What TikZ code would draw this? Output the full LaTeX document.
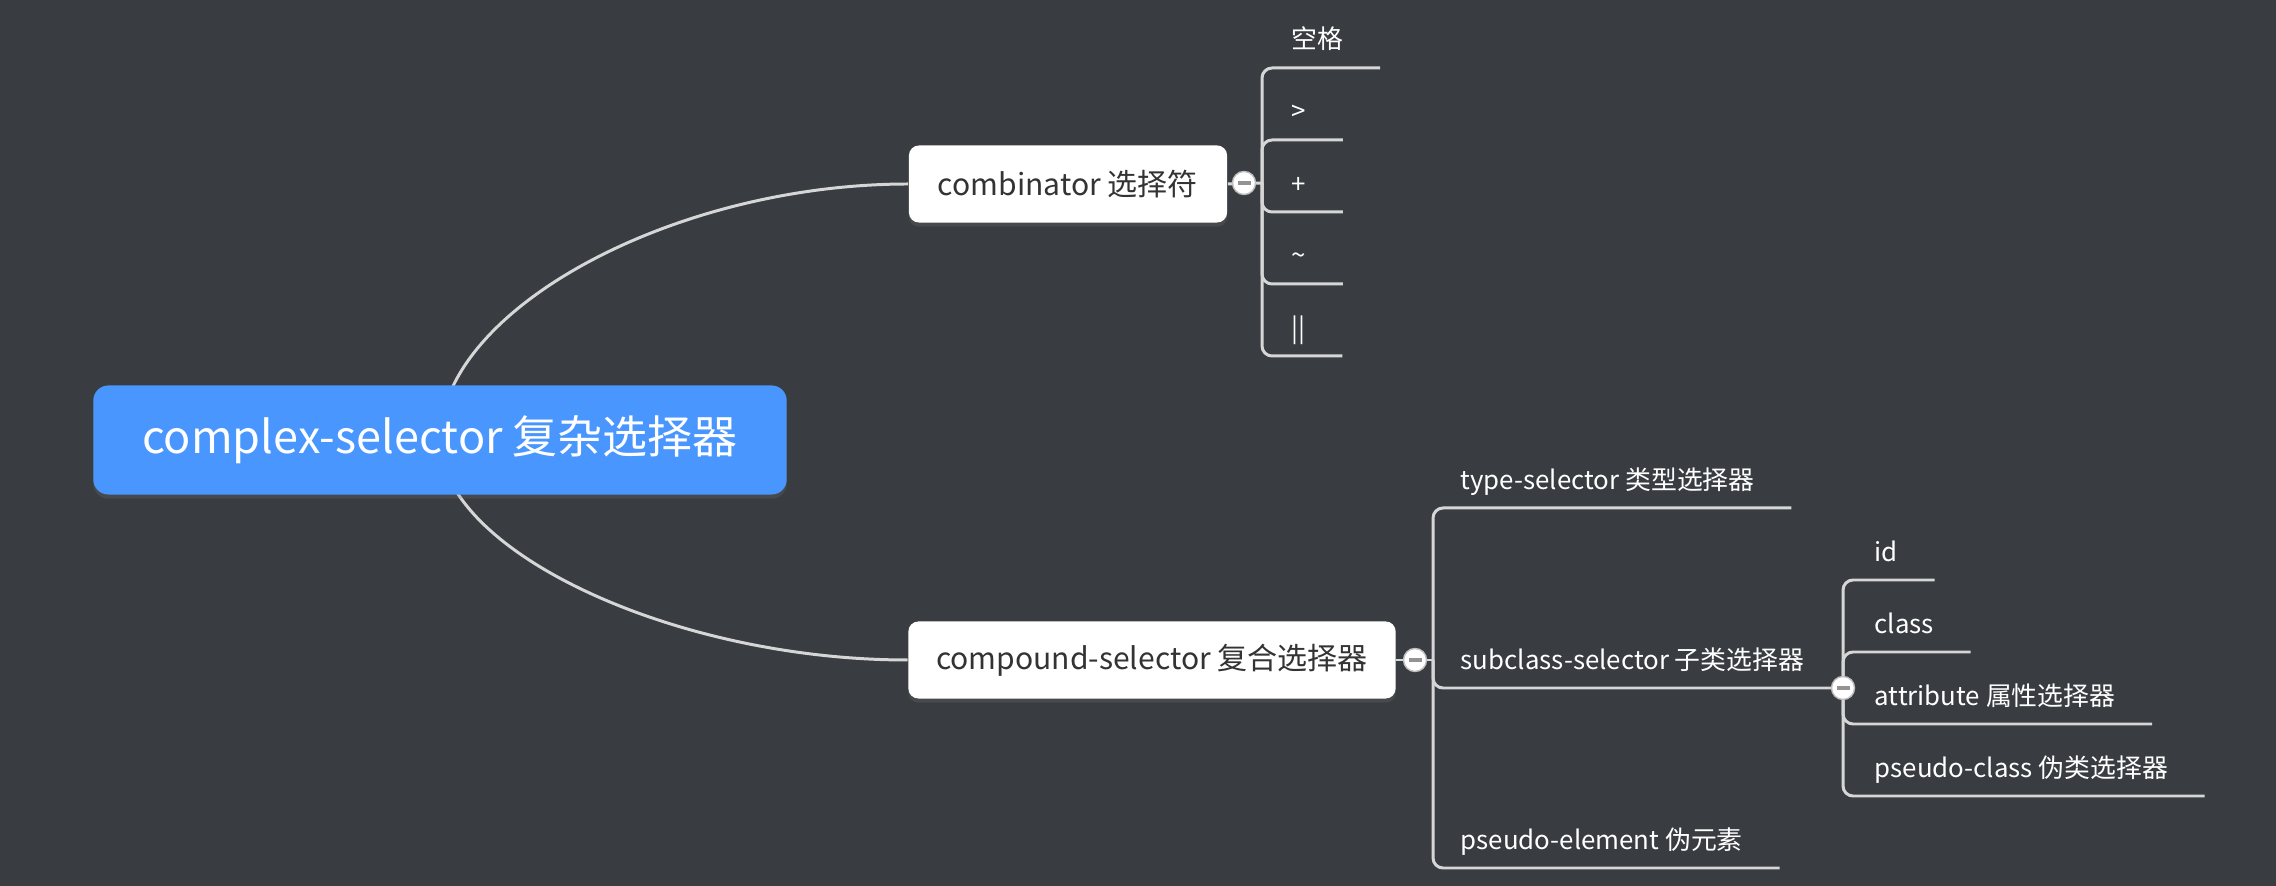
\documentclass[tikz,border=0pt]{standalone}
\usepackage{fontspec}
\setmainfont{Noto Sans CJK SC}
\usepackage{xcolor}
\usepackage{tikz}
\usetikzlibrary{backgrounds,shadows}

\definecolor{bgdark}{HTML}{393C41}
\definecolor{rootblue}{HTML}{4A96FF}
\definecolor{linegray}{HTML}{D6D6D6}
\definecolor{boxtext}{HTML}{333333}

\begin{document}
\begin{tikzpicture}[x=0.01cm, y=-0.01cm,
        rootbox/.style={fill=rootblue, text=white, rounded corners=0.15cm, minimum width=6.93cm, minimum height=1.09cm, font=\fontsize{12.8}{15}\selectfont, drop shadow={shadow xshift=0pt, shadow yshift=-1.2pt, opacity=0.2}},
        mainbox/.style={fill=white, text=boxtext, rounded corners=0.1cm, minimum height=0.77cm, font=\fontsize{8.55}{10}\selectfont, drop shadow={shadow xshift=0pt, shadow yshift=-1.2pt, opacity=0.2}},
        leaf/.style={anchor=south west, text=white, inner xsep=0pt, inner ysep=5.2pt, text depth=0pt, font=\fontsize{7.35}{9}\selectfont},
        toggle/.style={circle, fill=white, draw=gray!50, line width=0.4pt, minimum size=0.23cm, inner sep=0pt,
            path picture={\fill[gray!85] ([xshift=-0.065cm,yshift=-0.017cm]path picture bounding box.center) rectangle ([xshift=0.065cm,yshift=0.017cm]path picture bounding box.center);}},
        branch/.style={draw=linegray, line width=0.85pt, rounded corners=0.1cm},
        curve/.style={draw=linegray, line width=0.85pt}]
        \useasboundingbox (0,0) rectangle (2276,886);

        % central topic and main topics
        \node[rootbox] (root) at (440,440) {complex-selector 复杂选择器};
        \node[mainbox, minimum width=3.18cm] (comb) at (1068,184) {combinator 选择符};
        \node[mainbox, minimum width=4.87cm] (comp) at (1152,660) {compound-selector 复合选择器};

        % combinator children
        \node[toggle] (combtog) at (1244,183) {};
        \coordinate (combj) at (1262,183);
        \node[leaf] (space) at (1291,68) {空格};
        \node[leaf] (child) at (1291,140) {>};
        \node[leaf] (next) at (1291,212) {+};
        \node[leaf] (later) at (1291,284) {\textasciitilde};
        \node[leaf] (column) at (1291,356) {||};

        % compound children
        \node[toggle] (comptog) at (1415,660) {};
        \coordinate (compj) at (1433,660);
        \node[leaf] (type) at (1460,508) {type-selector 类型选择器};
        \node[leaf] (sub) at (1460,688) {subclass-selector 子类选择器};
        \node[leaf] (pseudoel) at (1460,868) {pseudo-element 伪元素};

        % subclass children
        \node[toggle] (subtog) at (1843,688) {};
        \node[leaf] (id) at (1874,580) {id};
        \node[leaf] (class) at (1874,652) {class};
        \node[leaf] (attr) at (1874,724) {attribute 属性选择器};
        \node[leaf] (pseudocl) at (1874,796) {pseudo-class 伪类选择器};

        \begin{scope}[on background layer]
            \fill[bgdark] (0,0) rectangle (2276,886);
            \draw[curve] (root.center) .. controls +(0,-130) and +(-235,0) .. (comb.west);
            \draw[curve] (root.center) .. controls +(0,110) and +(-235,0) .. (comp.west);
            \draw[branch] (comb.east) -- (combj);
            \foreach \n in {space,child,next,later,column}
                \draw[branch] (combj) |- (\n.south west) -- ([xshift=0.36cm]\n.south east);
            \draw[branch] (comp.east) -- (compj);
            \foreach \n in {type,pseudoel}
                \draw[branch] (compj) |- (\n.south west) -- ([xshift=0.36cm]\n.south east);
            \draw[branch] (compj) |- (sub.south west) -- (subtog.center);
            \foreach \n in {id,class,attr,pseudocl}
                \draw[branch] (subtog.center) |- (\n.south west) -- ([xshift=0.36cm]\n.south east);
        \end{scope}
    \end{tikzpicture}
\end{document}
